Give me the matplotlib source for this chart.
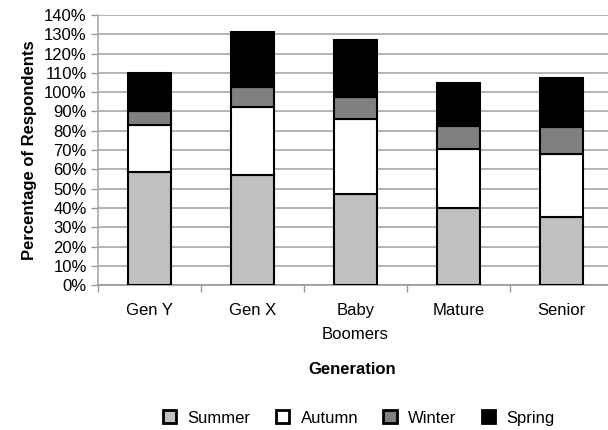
import matplotlib.pyplot as plt
import numpy as np

plt.rcParams['font.family'] = ['Liberation Sans', 'DejaVu Sans']

generations = ["Gen Y", "Gen X", "Baby\nBoomers", "Mature", "Senior"]
summer = [58.5, 57, 47, 40, 35.5]
autumn = [24.5, 35.5, 39, 30.5, 32.5]
winter = [7, 10, 11.5, 12, 14]
spring = [20, 28.5, 29.5, 22.5, 25.5]

series = [("Summer", summer, "#c0c0c0"),
          ("Autumn", autumn, "white"),
          ("Winter", winter, "#808080"),
          ("Spring", spring, "black")]

fig = plt.figure(figsize=(6.08, 4.30), dpi=100)
ax = fig.add_axes([0.161, 0.337, 0.847, 0.628])

x = np.arange(len(generations))
bottom = np.zeros(len(generations))
for name, vals, color in series:
    ax.bar(x, vals, width=0.42, bottom=bottom, color=color,
           edgecolor="black", linewidth=1.5, label=name, zorder=3)
    bottom += np.array(vals)

ax.set_xlim(-0.5, len(generations) - 0.5)
ax.set_ylim(0, 140)
ax.set_yticks(np.arange(0, 141, 10))
ax.set_yticklabels([f"{v}%" for v in range(0, 141, 10)])
ax.yaxis.grid(True, color="#b4b4b4", linewidth=1.4, zorder=0)

# category labels at bar centres, small ticks between categories
ax.set_xticks(x)
ax.set_xticklabels(generations, linespacing=1.75)
ax.set_xticks(np.arange(-0.5, len(generations), 1), minor=True)
ax.tick_params(axis="x", which="major", length=0, pad=13, labelsize=12)
ax.tick_params(axis="x", which="minor", length=5, color="#999999", width=1)
ax.tick_params(axis="y", length=5, color="#999999", width=1, pad=3, labelsize=12)

for side in ["top", "right"]:
    ax.spines[side].set_visible(False)
ax.spines["left"].set_color("#aaaaaa")
ax.spines["bottom"].set_color("#999999")
ax.spines["left"].set_linewidth(1.2)
ax.spines["bottom"].set_linewidth(1.2)

ax.set_ylabel("Percentage of Respondents", fontsize=12, fontweight="bold", labelpad=5)

fig.text(0.58, 0.14, "Generation", fontsize=12, fontweight="bold",
         ha="center", va="center")

leg = ax.legend(loc="center", bbox_to_anchor=(0.59, 0.028), bbox_transform=fig.transFigure,
                ncol=4, frameon=False, fontsize=12, handlelength=0.8, handleheight=0.8,
                handletextpad=0.7, columnspacing=1.5)
for patch in leg.get_patches():
    patch.set_linewidth(2)

fig.savefig("out.png", dpi=100)
